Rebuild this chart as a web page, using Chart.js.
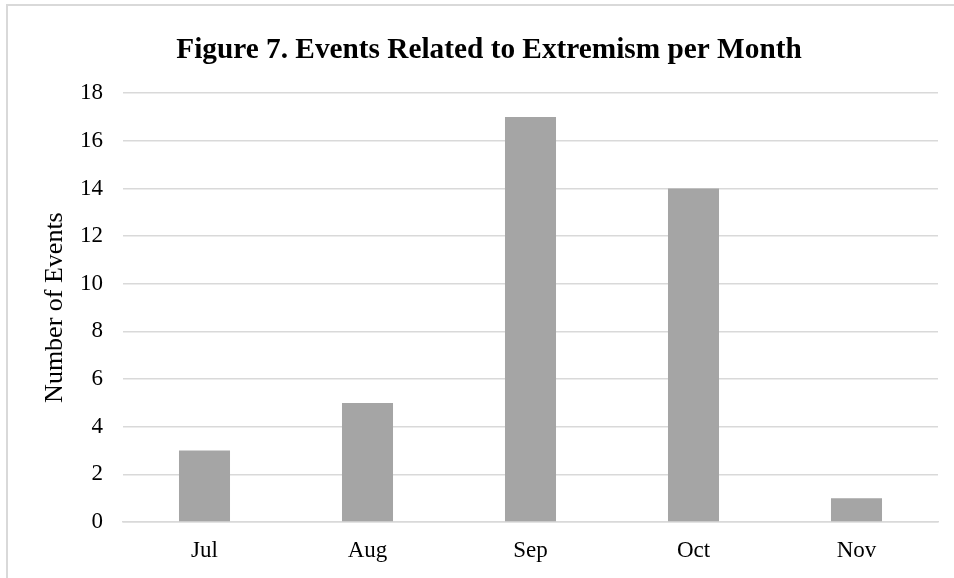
<!DOCTYPE html>
<html>
<head>
<meta charset="utf-8">
<script src="https://cdn.jsdelivr.net/npm/chart.js@4"></script>
<style>
  html, body { margin: 0; padding: 0; background: #fff; overflow: hidden; }
  #frame {
    position: absolute; left: 6px; top: 4px; width: 980px; height: 600px;
    border: 2px solid #d9d9d9; box-sizing: border-box;
  }
  #wrap { position: absolute; left: 0; top: 0; width: 954px; height: 578px; }
</style>
</head>
<body>
<div id="frame"></div>
<div id="wrap"><canvas id="bar-chart"></canvas></div>
<script>
const months = ['Jul', 'Aug', 'Sep', 'Oct', 'Nov'];
const events = [3, 5, 17, 14, 1];
const yTicks = [0, 2, 4, 6, 8, 10, 12, 14, 16, 18];

const serif = '"Liberation Serif", "Times New Roman", serif';

new Chart(document.getElementById('bar-chart'), {
  type: 'bar',
  data: {
    labels: months,
    datasets: [{
      label: 'Number of Events',
      data: events,
      backgroundColor: '#a5a5a5',
      barPercentage: 0.626,
      categoryPercentage: 0.5
    }]
  },
  options: {
    responsive: true,
    maintainAspectRatio: false,
    animation: false,
    layout: { padding: { left: 40, right: 16, top: 33, bottom: 0 } },
    plugins: {
      legend: { display: false },
      tooltip: { enabled: false },
      title: {
        display: true,
        text: 'Figure 7. Events Related to Extremism per Month',
        color: '#000',
        font: { family: serif, size: 29.3, weight: 'bold' },
        padding: { top: 0, bottom: 25 }
      }
    },
    scales: {
      x: {
        grid: { display: false, drawTicks: false },
        border: { color: '#d9d9d9', width: 1.5 },
        ticks: { color: '#000', font: { family: serif, size: 23 }, padding: 15 },
        afterFit: scale => { scale.height = 56; }
      },
      y: {
        min: 0,
        max: 18,
        afterBuildTicks: axis => { axis.ticks = yTicks.map(v => ({ value: v })); },
        grid: { color: '#d9d9d9', lineWidth: 1.5, drawTicks: false },
        border: { display: false },
        ticks: { color: '#000', font: { family: serif, size: 23 }, padding: 20 },
        title: {
          display: true,
          text: 'Number of Events',
          color: '#000',
          font: { family: serif, size: 26 },
          padding: { top: 0, bottom: 8 }
        },
        afterFit: scale => { scale.width = 83; }
      }
    }
  }
});
</script>
</body>
</html>
